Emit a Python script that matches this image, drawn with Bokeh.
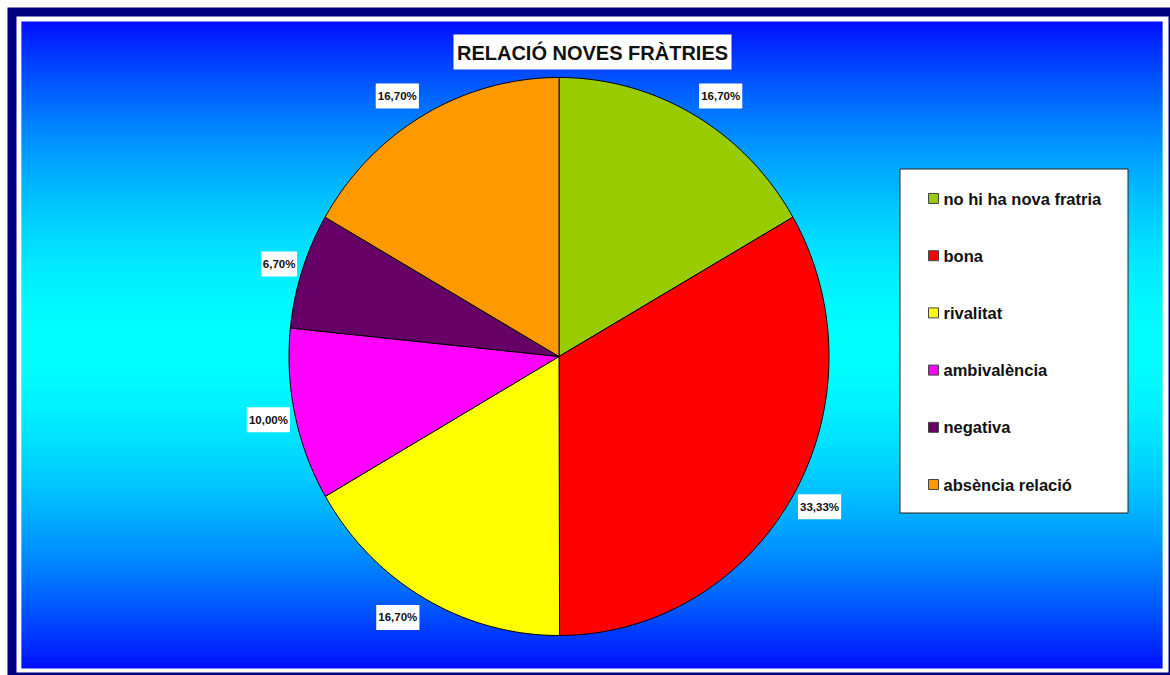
import numpy as np
from bokeh.plotting import figure
from bokeh.models import Range1d
from bokeh.core.properties import value
from bokeh.embed import file_html
from bokeh.resources import INLINE

# ---- data ----
title = "RELACIÓ NOVES FRÀTRIES"
categories = ["no hi ha nova fratria", "bona", "rivalitat", "ambivalència", "negativa", "absència relació"]
percentages = [16.70, 33.33, 16.70, 10.00, 6.70, 16.70]
pct_labels = ["16,70%", "33,33%", "16,70%", "10,00%", "6,70%", "16,70%"]
colors = ["#99CC00", "#FF0000", "#FFFF00", "#FF00FF", "#660066", "#FF9900"]

W, H = 1170, 675
FONT = value("Liberation Sans")

p = figure(width=W, height=H, output_backend="svg", toolbar_location=None,
           x_axis_type=None, y_axis_type=None,
           x_range=Range1d(0, W), y_range=Range1d(H, 0),
           min_border=0, outline_line_color=None,
           background_fill_color="white", border_fill_color="white")
p.grid.visible = False

# frame: navy border, white strip, gradient
p.quad(left=[7], right=[1185], top=[7], bottom=[690], fill_color="#000080", line_color=None)
p.quad(left=[16], right=[1168], top=[16], bottom=[672], fill_color="white", line_color=None)

gy0, gy1 = 21, 668
gmid = (gy0 + gy1) / 2
ys = np.arange(gy0, gy1, 1.0)
def g_of(y):
    d = abs(y - gmid) / (gmid - gy0)
    return 255 - 240 * d ** 1.7
grad_cols = ["#%02x%02x%02x" % (0, int(round(min(255, max(0, g_of(y))))), 255) for y in ys]
p.quad(left=21, right=1162, top=ys, bottom=np.minimum(ys + 1.6, gy1), fill_color=grad_cols, line_color=None)

# ---- pie ----
cx, cy, rx, ry = 558.5, 356, 270, 279
vals = np.array(percentages)
fr = vals / vals.sum()
ends = np.cumsum(fr) * 2 * np.pi
starts = ends - fr * 2 * np.pi
xs, ys_p = [], []
for s, e in zip(starts, ends):
    t = np.linspace(s, e, max(8, int((e - s) / (2 * np.pi) * 400)))
    xs.append([cx] + list(cx + rx * np.sin(t)))
    ys_p.append([cy] + list(cy - ry * np.cos(t)))
p.patches(xs, ys_p, fill_color=colors, line_color="black", line_width=1)

# data labels (placed just outside the slice edge, like Excel)
mids = (starts + ends) / 2
bw = np.array([7.2 * len(s) for s in pct_labels])
lx = cx + rx * np.sin(mids) + np.sign(np.sin(mids)) * (bw / 2 + 5)
ly = cy - ry * np.cos(mids) - 22 * np.cos(mids)
p.rect(x=lx, y=ly, width=bw, height=25, fill_color="white", line_color=None)
p.text(x=lx, y=ly, text=pct_labels, text_font=FONT, text_font_style="bold",
       text_font_size="11.5px", text_align="center", text_baseline="middle",
       text_color="#111111")

# ---- title ----
p.rect(x=[592], y=[51.5], width=278, height=35, fill_color="white", line_color=None)
p.text(x=[592], y=[52], text=[title], text_font=FONT, text_font_style="bold",
       text_font_size="20px", text_align="center", text_baseline="middle",
       text_color="#111111")

# ---- legend ----
p.quad(left=[899.5], right=[1127.5], top=[168.5], bottom=[512.5], fill_color="white",
       line_color="#222222", line_width=1)
leg_y = [198 + i * 57.2 for i in range(len(categories))]
p.rect(x=933, y=leg_y, width=10, height=10, fill_color=colors, line_color="#444444", line_width=1)
p.text(x=943, y=leg_y, text=categories, text_font=FONT, text_font_style="bold",
       text_font_size="16.5px", text_align="left", text_baseline="middle",
       text_color="#111111")

open("out.html", "w").write(file_html(p, INLINE))
